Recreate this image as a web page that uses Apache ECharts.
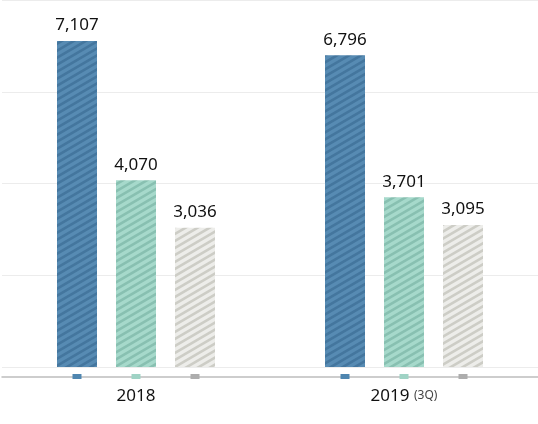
<!DOCTYPE html>
<html>
<head>
<meta charset="utf-8">
<script src="https://cdn.jsdelivr.net/npm/echarts@6/dist/echarts.min.js"></script>
<style>
html,body{margin:0;padding:0;background:#fff;}
#c{width:538px;height:424px;}
</style>
</head>
<body>
<div id="c"></div>
<script>
const categories = ['2018', '2019'];
const categoryNotes = ['', '(3Q)'];
const seriesA = [7107, 6796];
const seriesB = [4070, 3701];
const seriesC = [3036, 3095];
const yMax = 8000;
const yInterval = 2000;

function makePattern(base, stripe) {
  const w = 12, h = 7;
  const cv = document.createElement('canvas');
  cv.width = w; cv.height = h;
  const ctx = cv.getContext('2d');
  ctx.fillStyle = base;
  ctx.fillRect(0, 0, w, h);
  ctx.strokeStyle = stripe;
  ctx.lineWidth = 2.6;
  for (let m = -2; m <= 3; m++) {
    ctx.beginPath();
    ctx.moveTo(-12, 7 * m + 7);
    ctx.lineTo(24, 7 * m - 14);
    ctx.stroke();
  }
  return { image: cv, repeat: 'repeat' };
}

const styles = [
  { fill: makePattern('#578bb3', '#44769e'), marker: '#4f86b0' },
  { fill: makePattern('#a6d9cb', '#88c0b1'), marker: '#9fd3c5' },
  { fill: makePattern('#ededea', '#cdcdc6'), marker: '#adadad' }
];
const data = [seriesA, seriesB, seriesC];
const names = ['A', 'B', 'C'];

const series = [];
data.forEach((vals, i) => {
  series.push({
    name: names[i],
    type: 'bar',
    xAxisIndex: 0,
    data: vals,
    barWidth: 40,
    barGap: '47.5%',
    itemStyle: { color: styles[i].fill },
    label: {
      show: true,
      position: 'top',
      distance: 7,
      color: '#111',
      fontSize: 17,
      fontFamily: 'Noto Sans',
      formatter: p => p.value.toLocaleString('en-US')
    },
    silent: true
  });
});
data.forEach((vals, i) => {
  series.push({
    name: names[i] + '-marker',
    type: 'bar',
    xAxisIndex: 1,
    data: vals,
    barWidth: 40,
    barGap: '47.5%',
    itemStyle: { color: 'rgba(0,0,0,0)' },
    label: {
      show: true,
      position: 'bottom',
      distance: 7,
      formatter: '{m|}',
      rich: { m: { width: 9, height: 5, backgroundColor: styles[i].marker } }
    },
    silent: true,
    z: 5
  });
});

const chart = echarts.init(document.getElementById('c'));
chart.setOption({
  animation: false,
  grid: { left: 2, right: 0, top: -1, bottom: 57, containLabel: false },
  xAxis: [{
    type: 'category',
    data: categories,
    offset: 10,
    axisLine: { show: true, onZero: false, lineStyle: { color: '#bdbdbd', width: 1.5 } },
    axisTick: { show: false },
    axisLabel: {
      margin: 11,
      color: '#111',
      fontSize: 17,
      fontFamily: 'Noto Sans',
      formatter: (v, idx) => categoryNotes[idx] ? v + ' {s|' + categoryNotes[idx] + '}' : v,
      rich: { s: { fontSize: 12, color: '#444', fontFamily: 'Noto Sans', padding: [0, 0, 2, 0] } }
    }
  }, {
    type: 'category',
    data: categories,
    show: false
  }],
  yAxis: {
    type: 'value',
    min: 0,
    max: yMax,
    interval: yInterval,
    axisLine: { show: false },
    axisTick: { show: false },
    axisLabel: { show: false },
    splitLine: { lineStyle: { color: '#ececec', width: 1 } }
  },
  series: series
});
</script>
</body>
</html>
